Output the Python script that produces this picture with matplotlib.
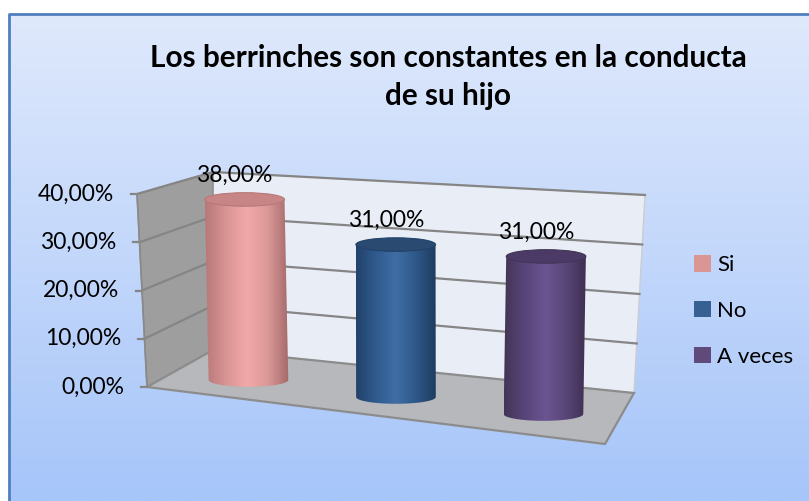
import numpy as np
import matplotlib
matplotlib.use("Agg")
import matplotlib.pyplot as plt
from matplotlib.patches import Polygon, Ellipse, Patch
from matplotlib.colors import LinearSegmentedColormap

# Chart data
title = "Los berrinches son constantes en la conducta\nde su hijo"
categories = ["Si", "No", "A veces"]
values = [0.38, 0.31, 0.31]
value_labels = ["38,00%", "31,00%", "31,00%"]
yticks = [0.0, 0.1, 0.2, 0.3, 0.4]
ytick_labels = ["0,00%", "10,00%", "20,00%", "30,00%", "40,00%"]
ymax = 0.4

legend_colors = ["#d99694", "#376092", "#604a7b"]
body_colors = [
    ["#b97878", "#d99494", "#f3a9a9", "#dc9898", "#a46a6a"],
    ["#22426a", "#305b8e", "#3f6ea6", "#2f5888", "#1f3c60"],
    ["#433556", "#58457a", "#6c5592", "#594679", "#3d2f50"],
]
top_colors = ["#c78585", "#2a4a72", "#4b3a66"]

plt.rcParams["font.family"] = ["Lato", "DejaVu Sans"]

W, H = 809, 501
fig = plt.figure(figsize=(W / 100, H / 100), dpi=100)
ax = fig.add_axes([0, 0, 1, 1])
ax.set_xlim(0, W)
ax.set_ylim(H, 0)
ax.axis("off")


def proj(u, v, w):
    # u: fraction across the category axis, v: fraction of ymax, w: depth (0 back, 1 front)
    xb = 213 + u * (421 + 11 * v)
    yb = 350 + 43 * u - v * (178 + 20 * u)
    dx = -66 + 37 * u - 10 * v
    dy = 37 + 14 * u - 15 * v
    return xb + w * dx, yb + w * dy


# chart area background
bg = LinearSegmentedColormap.from_list("bg", ["#dfe9fc", "#a6c5f9"])
grad = np.linspace(0, 1, 256).reshape(-1, 1)
ax.imshow(grad, cmap=bg, extent=(9, W, H, 14), origin="upper", aspect="auto", zorder=0)
ax.plot([9, 9, W], [H, 14, 14], color="#4f7fc0", lw=2, zorder=1)

# walls and floor
back = [proj(0, 0, 0), proj(1, 0, 0), proj(1, 1, 0), proj(0, 1, 0)]
ax.add_patch(Polygon(back, closed=True, fc="#e9eef6", ec="#c9ccd2", lw=1, zorder=2))
side = [proj(0, 0, 0), proj(0, 1, 0), proj(0, 1, 1), proj(0, 0, 1)]
ax.add_patch(Polygon(side, closed=True, fc="#9e9e9e", ec="#8a8a8a", lw=1, zorder=2))
floor = [proj(0, 0, 0), proj(1, 0, 0), proj(1, 0, 1), proj(0, 0, 1)]
ax.add_patch(Polygon(floor, closed=True, fc="#b6b8bb", ec="#8c8c8c", lw=1.6, zorder=3))

# gridlines, ticks and tick labels
for t, lab in zip(yticks, ytick_labels):
    v = t / ymax
    p_front = proj(0, v, 1)
    p_back = proj(0, v, 0)
    p_right = proj(1, v, 0)
    if t > 0:
        ax.plot([p_front[0], p_back[0], p_right[0]], [p_front[1], p_back[1], p_right[1]],
                color="#858585", lw=1.6, zorder=3)
    ax.plot([p_front[0] - 6, p_front[0]], [p_front[1], p_front[1]], color="#858585", lw=1.6, zorder=3)
    ax.text(p_front[0] - 23, p_front[1], lab, ha="right", va="center", fontsize=16.5, color="black")
ax.plot([proj(0, 0, 1)[0], proj(0, 1, 1)[0]], [proj(0, 0, 1)[1], proj(0, 1, 1)[1]],
        color="#8a8a8a", lw=1.2, zorder=3)

# cylinders
depth = 0.58
n = len(categories)
for i, val in enumerate(values):
    uc = (i + 0.5) / n
    v = val / ymax
    xb, yb = proj(uc, 0, depth)
    xt, yt = proj(uc, v, depth)
    xl = proj(uc - 0.27 / n, 0, depth)[0]
    xr = proj(uc + 0.27 / n, 0, depth)[0]
    cw = xr - xl
    eh = 0.17 * cw
    t = np.linspace(0, np.pi, 60)
    arc = np.column_stack([xb - cw / 2 * np.cos(t), yb + eh / 2 * np.sin(t)])
    outline = np.vstack([[xt - cw / 2, yt], arc, [xt + cw / 2, yt]])
    body = Polygon(outline, closed=True, fc="none", ec="none", zorder=4)
    ax.add_patch(body)
    cmap = LinearSegmentedColormap.from_list("c%d" % i, body_colors[i])
    im = ax.imshow(np.linspace(0, 1, 128).reshape(1, -1), cmap=cmap,
                   extent=(min(xt, xb) - cw / 2, max(xt, xb) + cw / 2, yb + eh, yt),
                   origin="upper", aspect="auto", zorder=4)
    im.set_clip_path(body)
    ax.add_patch(Ellipse((xt, yt), cw, eh, fc=top_colors[i], ec=body_colors[i][0], lw=0.8, zorder=5))
    ax.text(xt - 10, yt - 24, value_labels[i], ha="center", va="center", fontsize=16.5, zorder=6)

ax.set_xlim(0, W)
ax.set_ylim(H, 0)

# title
fig.text(448 / W, 1 - 77 / H, title, ha="center", va="center", fontsize=21.4,
         fontweight="bold", linespacing=1.45)

# legend
handles = [Patch(fc=c, ec="none") for c in legend_colors]
fig.legend(handles, categories, loc="center left", bbox_to_anchor=(694 / W, 1 - 311 / H),
           frameon=False, fontsize=16, handlelength=0.75, handleheight=0.75,
           handletextpad=0.3, labelspacing=1.16, borderpad=0, borderaxespad=0)

fig.savefig("out.png", dpi=100)
